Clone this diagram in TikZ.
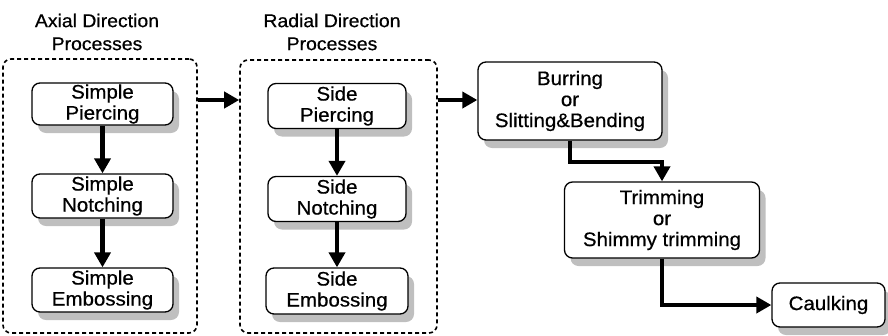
\documentclass[tikz,border=0pt]{standalone}
\usepackage{fontspec}
\setmainfont{Liberation Sans}[FakeStretch=1.05, FakeBold=0.6]
\usetikzlibrary{arrows.meta,shadows}
\begin{document}
\begin{tikzpicture}[x=1pt,y=-1pt,
  proc/.style={draw=black, line width=1.3pt, rounded corners=8pt, fill=white,
    align=center, inner sep=0pt, font=\fontsize{19.5}{21}\selectfont,
    drop shadow={shadow xshift=6pt, shadow yshift=-8pt, fill=black!25, opacity=1}},
  group/.style={draw=black, line width=1.6pt, dash pattern=on 4pt off 3pt,
    rounded corners=8pt, inner sep=0pt},
  title/.style={align=center, font=\fontsize{18.5}{23}\selectfont, inner sep=0pt},
  arr/.style={line width=4.2pt, -{Triangle[length=15pt,width=16pt]}}
]
\useasboundingbox (0,0) rectangle (888,335);

% group containers
\node[group, minimum width=194pt, minimum height=274pt] (g1) at (100,196) {};
\node[group, minimum width=197pt, minimum height=273pt] (g2) at (338.5,196.5) {};
\node[title] (t1) at (97,32) {Axial Direction\\Processes};
\node[title] (t2) at (332,32) {Radial Direction\\Processes};

% axial processes
\node[proc, minimum width=141pt, minimum height=42pt] (sp) at (102.5,104) {Simple\\Piercing};
\node[proc, minimum width=141pt, minimum height=44pt] (sn) at (102.5,196) {Simple\\Notching};
\node[proc, minimum width=141pt, minimum height=44pt] (se) at (102.5,290) {Simple\\Embossing};

% radial processes
\node[proc, minimum width=138pt, minimum height=45pt] (dp) at (337,106) {Side\\Piercing};
\node[proc, minimum width=138pt, minimum height=45pt] (dn) at (337,199) {Side\\Notching};
\node[proc, minimum width=142pt, minimum height=46pt] (de) at (337,291) {Side\\Embossing};

% subsequent processes
\node[proc, minimum width=184pt, minimum height=78pt] (bu) at (570,101) {Burring\\or\\Slitting\&Bending};
\node[proc, minimum width=195pt, minimum height=76pt] (tr) at (662,220) {Trimming\\or\\Shimmy trimming};
\node[proc, minimum width=113pt, minimum height=44pt] (ca) at (828.5,305) {Caulking};

\coordinate (r1) at (0,100);
\coordinate (k1) at (0,162);

% connectors
\draw[arr] (sp) -- (sn);
\draw[arr] (sn) -- (se);
\draw[arr] (dp) -- (dn);
\draw[arr] (dn) -- (de);
\draw[arr] (g1.east |- r1) -- (g2.west |- r1);
\draw[arr] (g2.east |- r1) -- (bu.west |- r1);
\draw[arr] (bu.south) -- (bu.south |- k1) -| (tr.north);
\draw[arr] (tr.south) |- (ca.west);
\end{tikzpicture}
\end{document}
